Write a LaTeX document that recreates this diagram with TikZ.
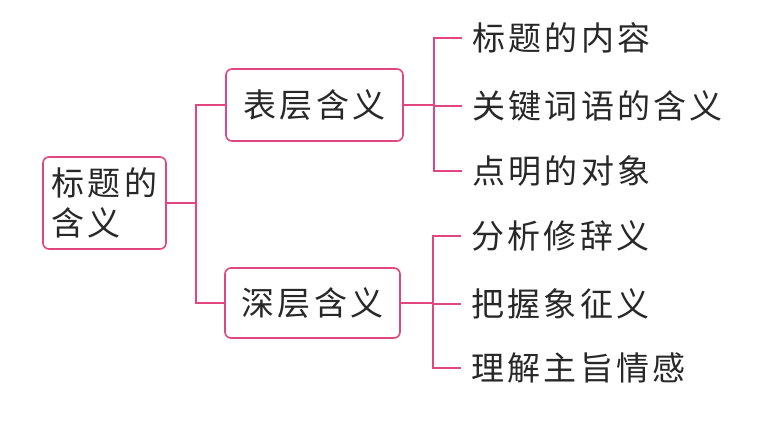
\documentclass[tikz,border=0pt]{standalone}
\usepackage{fontspec}
\newfontfamily\cjk[LetterSpace=10]{Noto Sans CJK SC}
\definecolor{pinkline}{RGB}{226,70,130}
\definecolor{txt}{RGB}{40,40,40}
\begin{document}
\begin{tikzpicture}[x=1pt,y=-1pt,
  box/.style={draw=pinkline, line width=1.6pt, rounded corners=6pt, fill=white,
    font=\cjk\fontsize{33}{40}\selectfont, text=txt, inner sep=0pt},
  leaf/.style={anchor=west, inner xsep=10pt, inner ysep=0pt,
    font=\cjk\fontsize{33}{40}\selectfont, text=txt},
  conn/.style={draw=pinkline, line width=1.6pt}]
\useasboundingbox (0,0) rectangle (761,421);
\node[box, minimum width=123pt, minimum height=92pt, align=left] (root) at (104.5,203) {标题的\\含义};
\node[box, minimum width=177pt, minimum height=72pt] (b1) at (314.5,105) {表层含义};
\node[box, minimum width=175pt, minimum height=70pt] (b2) at (312.5,303) {深层含义};
\coordinate (r) at (196,203);
\coordinate (c1) at (434,105);
\coordinate (c2) at (433,303);
\node[leaf] (l1) at (462,38) {标题的内容};
\node[leaf] (l2) at (462,106) {关键词语的含义};
\node[leaf] (l3) at (462,171) {点明的对象};
\node[leaf] (l4) at (461,236) {分析修辞义};
\node[leaf] (l5) at (461,304) {把握象征义};
\node[leaf] (l6) at (461,368) {理解主旨情感};
\draw[conn] (root.east) -- (r);
\draw[conn] (b1.west) -| (r) |- (b2.west);
\draw[conn] (b1.east) -- (c1) -- (c1 |- l2.west) -- (l2.west);
\draw[conn] (l1.west) -| (c1) |- (l3.west);
\draw[conn] (b2.east) -- (c2) -- (c2 |- l5.west) -- (l5.west);
\draw[conn] (l4.west) -| (c2) |- (l6.west);
\end{tikzpicture}
\end{document}
